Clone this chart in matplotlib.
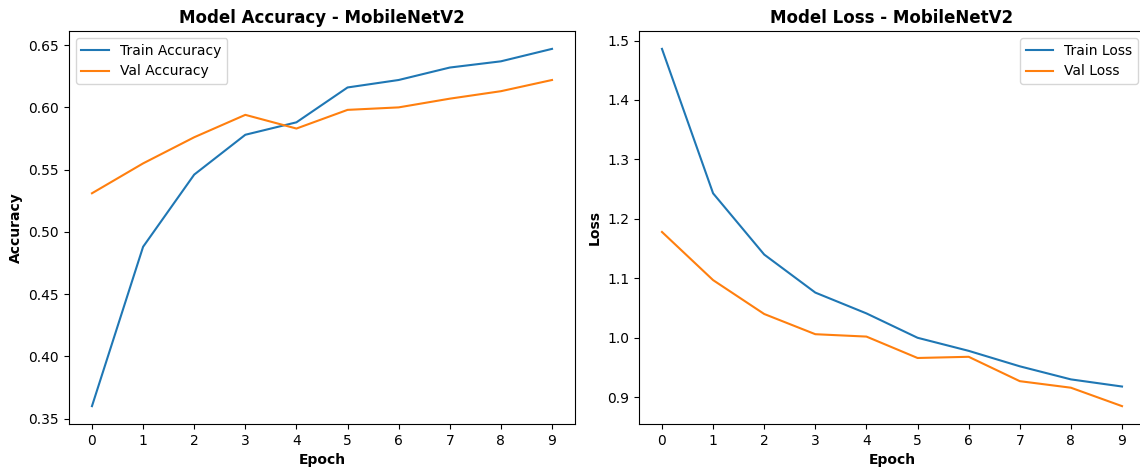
import numpy as np
import matplotlib
matplotlib.use("Agg")
import matplotlib.pyplot as plt

# training history
epochs = np.arange(10)
train_acc = [0.360, 0.488, 0.546, 0.578, 0.588, 0.616, 0.622, 0.632, 0.637, 0.647]
val_acc = [0.531, 0.555, 0.576, 0.594, 0.583, 0.598, 0.600, 0.607, 0.613, 0.622]
train_loss = [1.486, 1.243, 1.140, 1.076, 1.041, 1.000, 0.978, 0.952, 0.930, 0.918]
val_loss = [1.178, 1.097, 1.040, 1.006, 1.002, 0.966, 0.968, 0.927, 0.916, 0.885]

fig = plt.figure(figsize=(11.4, 4.72), dpi=100)

# accuracy
ax1 = fig.add_axes([0.0605, 0.1017, 0.4439, 0.8326])
ax1.plot(epochs, train_acc, label='Train Accuracy')
ax1.plot(epochs, val_acc, label='Val Accuracy')
ax1.set_title('Model Accuracy - MobileNetV2', fontweight='bold', fontsize=12)
ax1.set_xlabel('Epoch', fontweight='bold')
ax1.set_ylabel('Accuracy', fontweight='bold')
ax1.set_xticks(epochs)
ax1.legend(loc='upper left')

# loss (right edge runs slightly off the canvas, as in the reference)
ax2 = fig.add_axes([0.5605, 0.1017, 0.4439, 0.8326])
ax2.plot(epochs, train_loss, label='Train Loss')
ax2.plot(epochs, val_loss, label='Val Loss')
ax2.set_title('Model Loss - MobileNetV2', fontweight='bold', fontsize=12)
ax2.set_xlabel('Epoch', fontweight='bold')
ax2.set_ylabel('Loss', fontweight='bold')
ax2.set_xticks(epochs)
ax2.legend(loc='upper right')

plt.savefig('out.png', dpi=100)
